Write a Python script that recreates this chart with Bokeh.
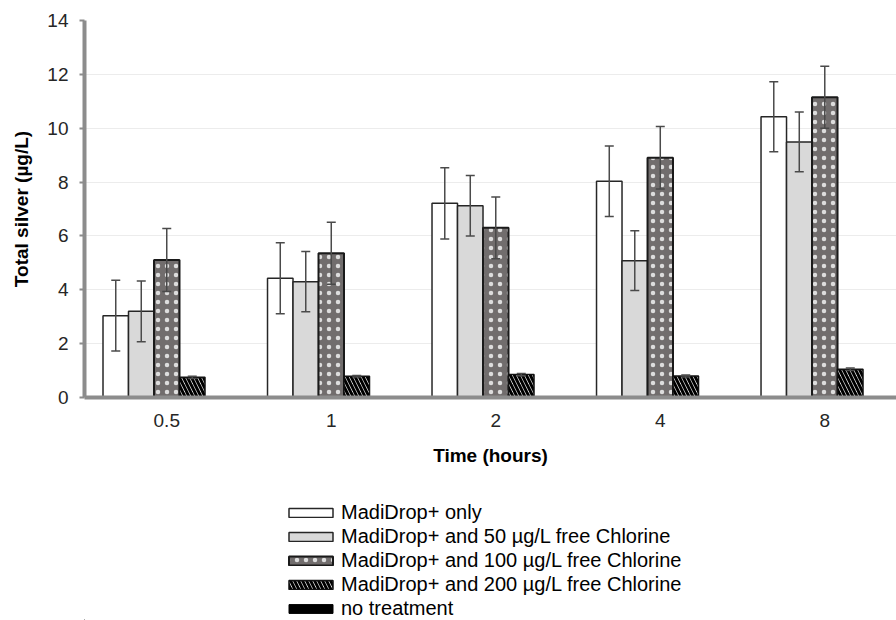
from bokeh.plotting import figure
from bokeh.layouts import column
from bokeh.models import (ColumnDataSource, Range1d, FixedTicker, Whisker, TeeHead,
                          Legend, LegendItem)
from bokeh.transform import dodge
from bokeh.embed import file_html
from bokeh.resources import INLINE

# ---- data ----
times = ["0.5", "1", "2", "4", "8"]
only_vals = [3.04, 4.43, 7.21, 8.03, 10.43]
only_err = [1.31, 1.32, 1.32, 1.31, 1.30]
cl50_vals = [3.20, 4.30, 7.12, 5.08, 9.49]
cl50_err = [1.13, 1.12, 1.12, 1.11, 1.11]
cl100_vals = [5.11, 5.36, 6.30, 8.90, 11.15]
cl100_err = [1.17, 1.15, 1.15, 1.16, 1.15]
cl200_vals = [0.75, 0.79, 0.85, 0.80, 1.05]
cl200_err = [0.04, 0.03, 0.04, 0.04, 0.05]
none_vals = [0.0, 0.0, 0.0, 0.0, 0.0]
none_err = [0.0, 0.0, 0.0, 0.0, 0.0]

labels = ["MadiDrop+ only",
          "MadiDrop+ and 50 \u00b5g/L free Chlorine",
          "MadiDrop+ and 100 \u00b5g/L free Chlorine",
          "MadiDrop+ and 200 \u00b5g/L free Chlorine",
          "no treatment"]

series = [only_vals, cl50_vals, cl100_vals, cl200_vals, none_vals]
errors = [only_err, cl50_err, cl100_err, cl200_err, none_err]

styles = [
    dict(fill_color="white", line_color="#262626", line_width=1.5),
    dict(fill_color="#d9d9d9", line_color="#262626", line_width=1.5),
    dict(fill_color="#716d6d", line_color="#1a1a1a", line_width=2,
         hatch_pattern="dot", hatch_color="#dddddd", hatch_scale=9, hatch_weight=1),
    dict(fill_color="white", line_color="#111111", line_width=1.5,
         hatch_pattern="left_diagonal_line", hatch_color="black", hatch_scale=8,
         hatch_weight=3),
    dict(fill_color="black", line_color="black", line_width=1),
]

FONT = "Liberation Sans"
bw = 0.155
offsets = [-2, -1, 0, 1, 2]

p = figure(width=896, height=480,
           x_range=Range1d(-0.5, 4.436), y_range=Range1d(0, 14),
           output_backend="svg", toolbar_location=None,
           min_border_left=84, min_border_right=0, min_border_top=20,
           min_border_bottom=83)
p.outline_line_color = None
p.background_fill_color = "white"
p.border_fill_color = "white"

idx = list(range(len(times)))
for k, (vals, errs, st) in enumerate(zip(series, errors, styles)):
    src = ColumnDataSource(dict(
        idx=idx, top=vals,
        upper=[v + e for v, e in zip(vals, errs)],
        lower=[v - e for v, e in zip(vals, errs)]))
    xs = dodge("idx", offsets[k] * bw, range=p.x_range)
    p.vbar(x=xs, top="top", bottom=0, width=bw, source=src, **st)
    if k < 4:
        w = Whisker(base=dodge("idx", offsets[k] * bw, range=p.x_range),
                    upper="upper", lower="lower", source=src,
                    line_color="#4a4a4a", line_width=1.5,
                    upper_head=TeeHead(size=9, line_color="#4a4a4a", line_width=1.5),
                    lower_head=TeeHead(size=9, line_color="#4a4a4a", line_width=1.5))
        w.level = "overlay"
        p.add_layout(w)

# axes
p.xaxis.ticker = FixedTicker(ticks=idx)
p.xaxis.major_label_overrides = {i: t for i, t in enumerate(times)}
p.xaxis.major_tick_line_color = None
p.xaxis.minor_tick_line_color = None
p.xaxis.axis_line_color = "#8c8c8c"
p.xaxis.axis_line_width = 4
p.xaxis.major_label_standoff = 10
p.xaxis.axis_label = "Time (hours)"
p.xaxis.axis_label_standoff = 15

p.yaxis.ticker = FixedTicker(ticks=[0, 2, 4, 6, 8, 10, 12, 14])
p.yaxis.minor_tick_line_color = None
p.yaxis.major_tick_in = 0
p.yaxis.major_tick_out = 5
p.yaxis.major_tick_line_color = "#8c8c8c"
p.yaxis.major_tick_line_width = 2
p.yaxis.axis_line_color = "#8c8c8c"
p.yaxis.axis_line_width = 4
p.yaxis.major_label_standoff = 11
p.yaxis.axis_label = "Total silver (\u00b5g/L)"
p.yaxis.axis_label_standoff = 12

for ax in (p.xaxis[0], p.yaxis[0]):
    ax.major_label_text_font = FONT
    ax.major_label_text_font_size = "19px"
    ax.major_label_text_color = "#262626"
    ax.axis_label_text_font = FONT
    ax.axis_label_text_font_size = "19px"
    ax.axis_label_text_font_style = "bold"
    ax.axis_label_text_color = "black"

p.xgrid.grid_line_color = None
p.ygrid.grid_line_color = "#ececec"
p.ygrid.grid_line_width = 1

# ---- legend panel below the chart ----
lg = figure(width=896, height=140, x_range=Range1d(0, 1), y_range=Range1d(0, 1),
            output_backend="svg", toolbar_location=None,
            min_border_left=0, min_border_right=0, min_border_top=0,
            min_border_bottom=0)
lg.axis.visible = False
lg.grid.visible = False
lg.outline_line_color = None
lg.border_fill_color = "white"
lg.background_fill_color = "white"

items = []
for st, lab in zip(styles, labels):
    # proxy renderer placed outside the visible range: only its legend swatch shows
    r = lg.vbar(x=[-5], top=[-5], bottom=-6, width=0.001, **st)
    items.append(LegendItem(label=lab, renderers=[r]))

legend = Legend(items=items, location=(199, 0), orientation="vertical",
                glyph_width=55, glyph_height=11, label_standoff=3,
                label_text_font=FONT, label_text_font_size="20px",
                label_text_color="black", spacing=1, padding=0, margin=0,
                border_line_color=None, background_fill_alpha=0,
                label_height=20)
lg.add_layout(legend, "center")

layout = column(p, lg, spacing=0)
open("out.html", "w").write(file_html(layout, INLINE))
